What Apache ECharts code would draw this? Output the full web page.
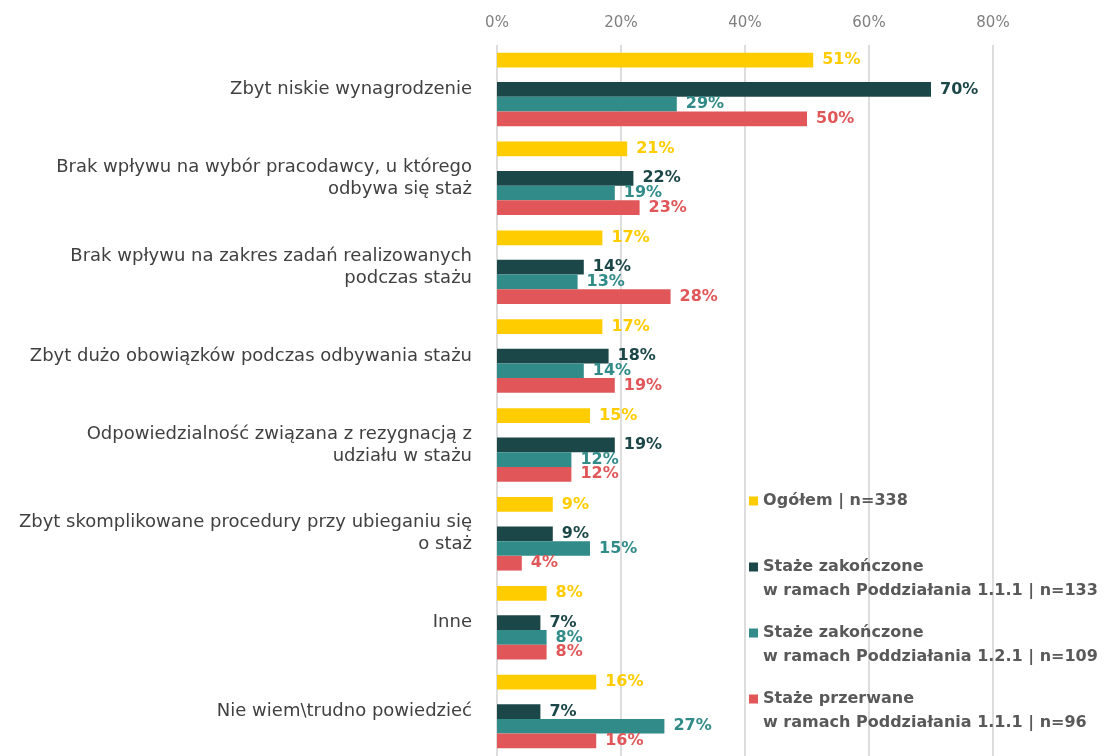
<!DOCTYPE html>
<html>
<head>
    <meta charset="UTF-8">
    <title></title>
    <style>
        body { margin: 0; background: #fff; }
    </style>
</head>
<body>
<div id="main" style="width: 1110px;height:756px;"></div>
<script type="text/javascript" src="https://cdn.jsdelivr.net/npm/echarts@6/dist/echarts.min.js"></script>
<script type="text/javascript">
    // kategorie (odpowiedzi)
    var categories = [
        'Zbyt niskie wynagrodzenie',
        'Brak wpływu na wybór pracodawcy, u którego\nodbywa się staż',
        'Brak wpływu na zakres zadań realizowanych\npodczas stażu',
        'Zbyt dużo obowiązków podczas odbywania stażu',
        'Odpowiedzialność związana z rezygnacją z\nudziału w stażu',
        'Zbyt skomplikowane procedury przy ubieganiu się\no staż',
        'Inne',
        'Nie wiem\\trudno powiedzieć'
    ];
    var seriesNames = [
        'Ogółem | n=338',
        'Staże zakończone\nw ramach Poddziałania 1.1.1 | n=133',
        'Staże zakończone\nw ramach Poddziałania 1.2.1 | n=109',
        'Staże przerwane\nw ramach Poddziałania 1.1.1 | n=96'
    ];
    var ogolem = [51, 21, 17, 17, 15, 9, 8, 16];
    var zakonczone111 = [70, 22, 14, 18, 19, 9, 7, 7];
    var zakonczone121 = [29, 19, 13, 14, 12, 15, 8, 27];
    var przerwane111 = [50, 23, 28, 19, 12, 4, 8, 16];
    var xTicks = [0, 20, 40, 60, 80];

    var colors = ['#FFCC00', '#1C4748', '#318B89', '#E15759'];
    var font = 'DejaVu Sans';

    var myChart = echarts.init(document.getElementById('main'));

    function barSeries(name, data, color) {
        return {
            name: name,
            type: 'bar',
            barWidth: 14.7,
            barGap: '0%',
            itemStyle: { color: color },
            label: {
                show: true,
                position: 'right',
                distance: 9,
                formatter: '{c}%',
                color: color,
                fontWeight: 'bold',
                fontSize: 16,
                fontFamily: font
            },
            data: data
        };
    }

    // pusta seria robi odstęp między "Ogółem" a pozostałymi słupkami
    var spacer = {
        name: 'spacer',
        type: 'bar',
        barWidth: 14.7,
        barGap: '0%',
        silent: true,
        data: categories.map(function () { return null; })
    };

    var rich = {};
    colors.forEach(function (c, i) {
        rich['sq' + i] = { width: 9, height: 9, backgroundColor: c };
    });
    rich.pad = { width: 14 };
    rich.t = { color: '#595959', fontWeight: 'bold', fontSize: 16, fontFamily: font, lineHeight: 24 };

    var option = {
        animation: false,
        color: colors,
        grid: {
            left: 497,
            top: 45,
            width: 496,
            height: 717
        },
        legend: {
            orient: 'vertical',
            left: 739,
            top: 484,
            itemWidth: 0,
            itemHeight: 0,
            itemGap: 18,
            icon: 'rect',
            data: seriesNames,
            selectedMode: false,
            textStyle: {
                fontFamily: font,
                fontSize: 16,
                lineHeight: 24,
                rich: rich
            },
            formatter: function (name) {
                var i = seriesNames.indexOf(name);
                var lines = name.split('\n');
                var s = '{sq' + i + '|} {t|' + lines[0] + '}';
                if (lines[1]) {
                    s += '\n{pad|}{t|' + lines[1] + '}';
                } else {
                    s += '\n{t| }';
                }
                return s;
            }
        },
        xAxis: {
            type: 'value',
            position: 'top',
            min: xTicks[0],
            max: xTicks[xTicks.length - 1],
            interval: 20,
            axisLine: { show: false },
            axisTick: { show: false },
            axisLabel: {
                margin: 14,
                color: '#7F7F7F',
                fontSize: 15,
                fontFamily: font,
                formatter: '{value}%'
            },
            splitLine: { lineStyle: { color: '#DDDDDD', width: 2 } }
        },
        yAxis: {
            type: 'category',
            inverse: true,
            data: categories,
            axisLine: { show: false },
            axisTick: { show: false },
            axisLabel: {
                margin: 25,
                color: '#404040',
                fontSize: 18,
                lineHeight: 22,
                fontFamily: font
            }
        },
        series: [
            barSeries(seriesNames[0], ogolem, colors[0]),
            spacer,
            barSeries(seriesNames[1], zakonczone111, colors[1]),
            barSeries(seriesNames[2], zakonczone121, colors[2]),
            barSeries(seriesNames[3], przerwane111, colors[3])
        ]
    };

    myChart.setOption(option);
</script>
</body>
</html>
